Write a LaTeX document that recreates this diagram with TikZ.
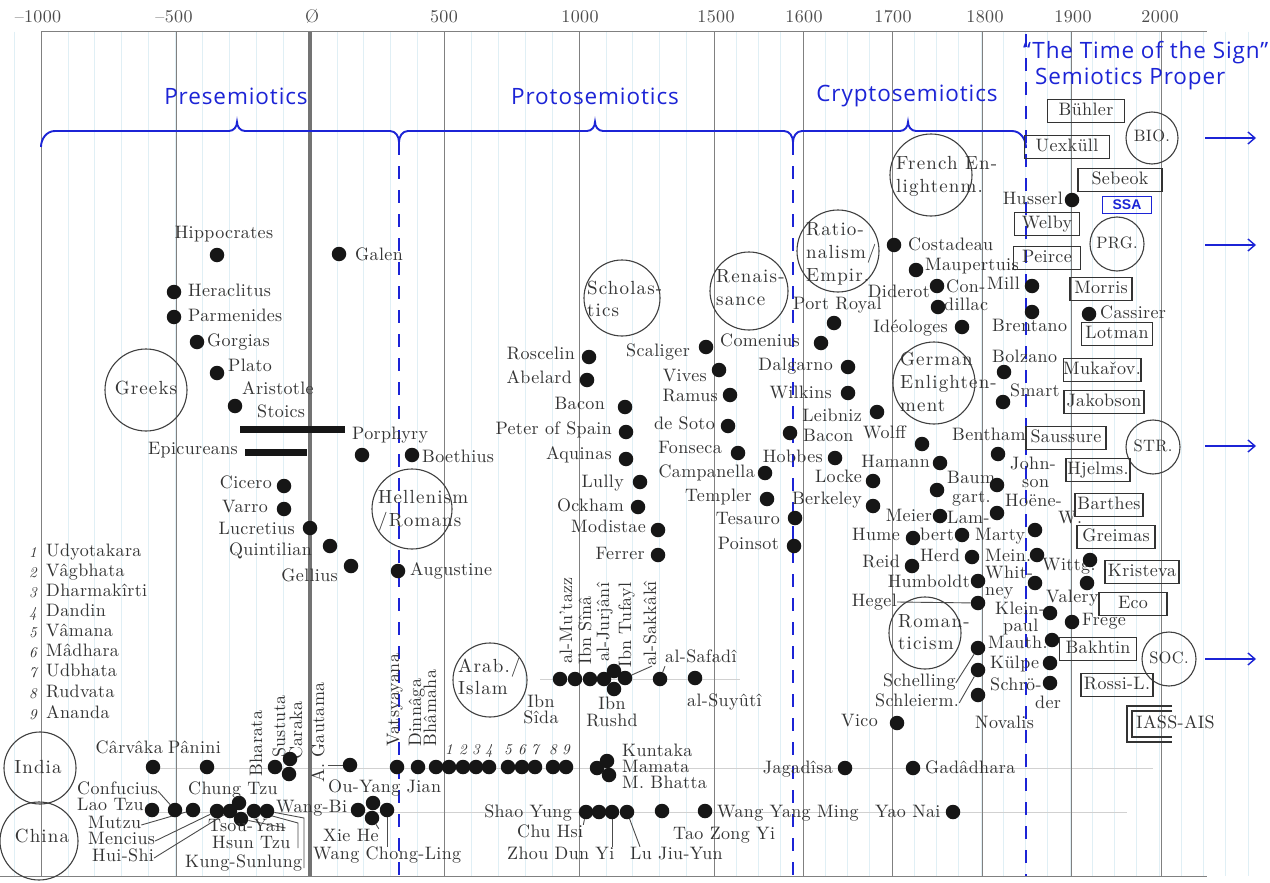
\documentclass[tikz,border=0pt]{standalone}
\usepackage{fontspec}
\setmainfont{lmroman10-regular.otf}[ItalicFont=lmroman10-italic.otf, LetterSpace=2]
\newfontfamily\circfont{lmroman10-regular.otf}[LetterSpace=6]
\newfontfamily\bluefont{Open Sans}[LetterSpace=4]
\newfontfamily\ssafont{Liberation Sans}
\usetikzlibrary{arrows.meta}
\pgfdeclarelayer{back}\pgfdeclarelayer{mid}\pgfsetlayers{back,mid,main}
\definecolor{ink}{RGB}{52,52,52}
\definecolor{dotc}{RGB}{22,22,22}
\definecolor{semblue}{RGB}{28,36,214}
\definecolor{paper}{RGB}{224,239,245}
\tikzset{
  lb/.style={inner sep=0pt, text=ink, font=\fontsize{18}{20}\selectfont, text height=12pt, text depth=4pt},
  tlb/.style={lb, text height=10.5pt, text depth=3pt},
  cl/.style={lb, font=\circfont\fontsize{19}{21}\selectfont},
  smlb/.style={lb, font=\fontsize{16.5}{19}\selectfont},
  pdot/.style={circle, fill=dotc, inner sep=0pt, minimum size=14.5pt},
  era/.style={circle, draw=black!75, line width=1.1pt, inner sep=0pt},
  bx/.style={lb, draw=black!80, line width=1.4pt, anchor=center},
  conn/.style={draw=black!70, line width=0.9pt},
  yline/.style={draw=black!50, line width=1pt},
  pline/.style={draw=paper, line width=0.8pt},
  rowline/.style={draw=black!18, line width=0.7pt},
  bl/.style={text=semblue, inner sep=0pt, font=\bluefont\fontsize{22.5}{25}\selectfont},
  brc/.style={draw=semblue, line width=1.9pt},
  bdash/.style={draw=semblue, line width=2.2pt, dash pattern=on 13pt off 11pt},
  barrow/.style={draw=semblue, line width=1.4pt, -{Straight Barb[length=7pt,width=12pt]}},
  yr/.style={lb, text=black!70, font=\fontsize{18}{21}\selectfont},
  idx/.style={lb, font=\itshape\fontsize{15}{17}\selectfont},
  thickbar/.style={draw=dotc, line width=7pt},
}
\newcommand\mkdot[2]{\node[pdot] (#1) at (#2) {};}
\newcommand\LW[3]{\node[lb,anchor=west] (#1) at (#2) {#3};}
\newcommand\TW[3]{\node[tlb,anchor=west] (#1) at (#2) {#3};}
\newcommand\CW[3]{\node[cl,anchor=west] (#1) at (#2) {#3};}
\newcommand\LE[3]{\node[lb,anchor=east] (#1) at (#2) {#3};}
\newcommand\LC[3]{\node[lb] (#1) at (#2) {#3};}
\newcommand\LV[3]{\node[lb,rotate=90,anchor=west] (#1) at (#2) {#3};}
\newcommand\ERA[3]{\node[era,minimum size=#3pt] (#1) at (#2) {};}
\newcommand\BX[4]{\node[bx,minimum width=#3pt,minimum height=23pt] (#1) at (#2) {#4};}
\begin{document}
\begin{tikzpicture}[x=1pt,y=-1pt]
\useasboundingbox (0,0) rectangle (1270,883);

% ---------- year axis labels ----------
\node[yr] (y-m1000) at (38,19) {–1000};
\node[yr] (y-m500) at (174,19) {–500};
\node[yr] (y-0) at (312,19) {Ø};
\node[yr] (y-500) at (444,19) {500};
\node[yr] (y-1000) at (580,19) {1000};
\node[yr] (y-1500) at (716,19) {1500};
\node[yr] (y-1600) at (804,19) {1600};
\node[yr] (y-1700) at (893,19) {1700};
\node[yr] (y-1800) at (985,19) {1800};
\node[yr] (y-1900) at (1073,19) {1900};
\node[yr] (y-2000) at (1160,19) {2000};

% ---------- blue headings ----------
\node[bl] (p-pre) at (236,96) {Presemiotics};
\node[bl] (p-proto) at (595,96) {Protosemiotics};
\node[bl] (p-crypto) at (907,96) {Cryptosemiotics};
\node[bl,anchor=west] (p-sign) at (1023,53) {“The Time of the Sign”};
\node[bl,anchor=west] (p-proper) at (1035,79) {Semiotics Proper};

% ---------- Greeks / Romans ----------
\LC{t-hipp}{224,234}{Hippocrates}
\mkdot{d-hipp}{217,255}
\mkdot{d-galen}{339,254} \LW{t-galen}{355,256}{Galen}
\mkdot{d-hera}{174,292} \LW{t-hera}{188,292}{Heraclitus}
\mkdot{d-parm}{174,317} \LW{t-parm}{188,317}{Parmenides}
\mkdot{d-gorg}{197,342} \LW{t-gorg}{207,342}{Gorgias}
\mkdot{d-plato}{217,373} \LW{t-plato}{228,367}{Plato}
\LW{t-arist}{242,390}{Aristotle} \mkdot{d-arist}{235,406}
\LW{t-stoics}{257,413}{Stoics}
\coordinate (s-a) at (240,429); \coordinate (s-b) at (345,429);
\draw[thickbar] (s-a) -- (s-b);
\LW{t-porph}{352,435}{Porphyry}
\LE{t-epic}{238,450}{Epicureans}
\coordinate (e-a) at (245,452); \coordinate (e-b) at (307,452);
\draw[thickbar] (e-a) -- (e-b);
\ERA{c-greeks}{146,390}{82} \node[cl] (t-greeks) at (146,390) {Greeks};
\mkdot{d-porph}{362,455}
\mkdot{d-boeth}{412,455} \LW{t-boeth}{422,458}{Boethius}
\ERA{c-hell}{412,509}{80}
\CW{t-hell1}{378,499}{Hellenism} \CW{t-hell2}{378,522}{/Romans}
\LE{t-cicero}{272,484}{Cicero} \mkdot{d-cicero}{284,486}
\LE{t-varro}{268,508}{Varro} \mkdot{d-varro}{284,509}
\LE{t-lucr}{295,530}{Lucretius} \mkdot{d-lucr}{310,528}
\LE{t-quint}{312,551}{Quintilian} \mkdot{d-quint}{330,546}
\LE{t-gell}{338,577}{Gellius} \mkdot{d-gell}{351,566}
\mkdot{d-aug}{398,571} \LW{t-aug}{410,571}{Augustine}

% ---------- index of Indian names ----------
\foreach \n/\yy/\s in {1/553/Udyotakara,2/573/Vâgbhata,3/593/Dharmakîrti,4/613/Dandin,5/633/Vâmana,6/653/Mâdhara,7/673/Udbhata,8/694/Rudvata,9/715/Ananda}{
  \node[idx] (n-\n) at (33,\yy) {\n};
  \node[tlb,anchor=west] (ix-\n) at (46,\yy) {\s};
}

% ---------- India ----------
\ERA{c-india}{40,768}{72} \node[cl] (t-india) at (38,769) {India};
\ERA{c-china}{39,841}{78} \node[cl] (t-china) at (42,838) {China};
\LE{t-carv}{163,749}{Cârvâka} \LW{t-pan}{168,749}{Pânini}
\mkdot{d-carv}{153,767} \mkdot{d-pan}{207,767}
\LV{t-bhar}{258,777}{Bharata}
\LV{t-sust}{281,758}{Sustuta}
\LV{t-cara}{298,760}{Caraka}
\mkdot{d-bhar}{275,767} \mkdot{d-sust}{290,759} \mkdot{d-cara}{289,774}
\LV{t-gaut}{320,783}{A. Gautama}
\mkdot{d-gaut}{350,765}
\LV{t-vats}{395,747}{Vatsyayana}
\LV{t-dinn}{417,747}{Dinnâga}
\LV{t-bham}{432,747}{Bhâmaha}
\mkdot{d-vats}{397,767} \mkdot{d-dinn}{418,767} \mkdot{d-bham}{436,767}
\foreach \n/\xx in {1/449,2/463,3/476,4/489,5/508,6/522,7/535,8/553,9/566}{
  \mkdot{d-i\n}{\xx,767}
  \node[idx] (k-\n) at (\xx,750) {\n};
}
\mkdot{d-kunt}{597,768} \mkdot{d-mam}{607,761} \mkdot{d-mbh}{609,775}
\TW{t-kunt}{622,753}{Kuntaka} \TW{t-mam}{622,769}{Mamata} \TW{t-mbh}{622,785}{M. Bhatta}
\LE{t-jag}{833,769}{Jagadîsa} \mkdot{d-jag}{845,768}
\mkdot{d-gad}{913,768} \LW{t-gad}{925,769}{Gadâdhara}
\LW{t-ouyang}{328,788}{Ou-Yang Jian}

% ---------- China ----------
\TW{t-conf}{77,791}{Confucius}
\TW{t-lao}{77,807}{Lao Tzu}
\mkdot{d-lao}{152,810} \mkdot{d-conf}{175,810} \mkdot{d-mutzu}{193,810}
\mkdot{d-menc}{217,811} \mkdot{d-hui}{230,811} \mkdot{d-chung}{239,803}
\mkdot{d-c7}{241,819} \mkdot{d-c8}{254,811} \mkdot{d-c9}{267,811}
\LW{t-chung}{188,790}{Chung Tzu}
\LW{t-wangbi}{276,808}{Wang-Bi}
\TW{t-mutzu}{88,825}{Mutzu} \TW{t-menc}{88,841}{Mencius} \TW{t-hui}{92,858}{Hui-Shi}
\TW{t-tsou}{208,828}{Tsou-Yan} \TW{t-hsun}{212,845}{Hsun Tzu} \TW{t-kung}{185,864}{Kung-Sunlung}
\coordinate (k8a) at (298,823); \coordinate (k8b) at (298,848);
\coordinate (k9a) at (304,818); \coordinate (k9b) at (304,868);
\mkdot{d-wb1}{358,810} \mkdot{d-wb2}{373,803} \mkdot{d-wb3}{372,818} \mkdot{d-wb4}{387,810}
\LW{t-xie}{323,837}{Xie He}
\LW{t-wcl}{313,855}{Wang Chong-Ling}
\LE{t-shao}{572,813}{Shao Yung}
\mkdot{d-s1}{586,812} \mkdot{d-s2}{599,812} \mkdot{d-s3}{612,812} \mkdot{d-s4}{627,812}
\mkdot{d-s5}{662,811} \mkdot{d-wym}{705,811}
\LW{t-chu}{517,833}{Chu Hsi}
\LW{t-zhou}{507,855}{Zhou Dun Yi}
\LW{t-lu}{630,855}{Lu Jiu-Yun}
\LW{t-tao}{673,835}{Tao Zong Yi}
\LW{t-wym}{717,813}{Wang Yang Ming}
\LW{t-yao}{875,813}{Yao Nai} \mkdot{d-yao}{953,812}

% ---------- Arab / Islam ----------
\ERA{c-arab}{490,680}{74}
\CW{t-arab1}{458,668}{Arab./} \CW{t-arab2}{458,690}{Islam}
\LC{t-ibn1}{541,703}{Ibn} \LC{t-sida}{541,719}{Sîda}
\mkdot{d-a1}{560,679} \mkdot{d-a2}{575,679} \mkdot{d-a3}{590,679} \mkdot{d-a4}{604,679}
\mkdot{d-a5}{614,671} \mkdot{d-a6}{614,689} \mkdot{d-a7}{625,678}
\mkdot{d-a8}{660,679} \mkdot{d-a9}{695,678}
\LV{t-mutazz}{568,664}{al-Mu’tazz}
\LV{t-sina}{587,665}{Ibn Sînâ}
\LV{t-jurj}{605,662}{al-Jurjânî}
\LV{t-tuf}{627,668}{Ibn Tufayl}
\LV{t-sakk}{652,666}{al-Sakkâkî}
\LC{t-ibn2}{612,705}{Ibn} \LC{t-rushd}{612,722}{Rushd}
\LW{t-safadi}{665,658}{al-Safadî}
\LW{t-suyuti}{687,702}{al-Suyûtî}

% ---------- Scholastics ----------
\ERA{c-schol}{622,298}{76}
\CW{t-schol1}{587,290}{Scholas-} \CW{t-schol2}{587,312}{tics}
\LE{t-rosc}{575,355}{Roscelin} \mkdot{d-rosc}{589,357}
\LE{t-abel}{572,379}{Abelard} \mkdot{d-abel}{587,380}
\LE{t-bacon1}{605,405}{Bacon} \mkdot{d-bacon1}{625,407}
\LE{t-peter}{612,430}{Peter of Spain} \mkdot{d-peter}{626,432}
\LE{t-aqui}{612,455}{Aquinas} \mkdot{d-aqui}{626,459}
\LE{t-lully}{624,483}{Lully} \mkdot{d-lully}{640,482}
\LE{t-ockham}{624,507}{Ockham} \mkdot{d-ockham}{638,507}
\LE{t-modi}{646,528}{Modistae} \mkdot{d-modi}{658,530}
\LE{t-ferrer}{645,555}{Ferrer} \mkdot{d-ferrer}{658,555}

% ---------- Renaissance / Rationalism ----------
\ERA{c-ren}{749,291}{78}
\CW{t-ren1}{716,278}{Renais-} \CW{t-ren2}{716,301}{sance}
\ERA{c-ratio}{838,251}{82}
\CW{t-rat1}{806,231}{Ratio-} \CW{t-rat2}{806,254}{nalism/} \CW{t-rat3}{806,277}{Empir.}
\LE{t-scal}{690,352}{Scaliger} \mkdot{d-scal}{706,347}
\LW{t-comen}{720,342}{Comenius} \mkdot{d-comen}{821,343}
\LW{t-port}{793,305}{Port Royal} \mkdot{d-port}{834,323}
\LE{t-vives}{707,377}{Vives} \mkdot{d-vives}{719,370}
\LE{t-dalg}{833,366}{Dalgarno} \mkdot{d-dalg}{848,367}
\LE{t-ramus}{718,397}{Ramus} \mkdot{d-ramus}{730,395}
\LE{t-wilk}{832,394}{Wilkins} \mkdot{d-wilk}{848,393}
\LE{t-soto}{715,425}{de Soto} \mkdot{d-soto}{728,426}
\LE{t-leib}{862,417}{Leibniz} \mkdot{d-leib}{877,412}
\mkdot{d-bacon2}{790,433} \LW{t-bacon2}{803,437}{Bacon}
\LW{t-wolff}{863,434}{Wolff} \mkdot{d-wolff}{922,444}
\LE{t-fons}{722,449}{Fonseca} \mkdot{d-fons}{738,453}
\LE{t-hobbes}{823,458}{Hobbes} \mkdot{d-hobbes}{835,458}
\LE{t-hamann}{930,463}{Hamann} \mkdot{d-hamann}{940,463}
\LE{t-camp}{755,473}{Campanella} \mkdot{d-camp}{765,473}
\LE{t-locke}{862,478}{Locke} \mkdot{d-locke}{873,481}
\LE{t-templ}{752,497}{Templer} \mkdot{d-templ}{767,499}
\LE{t-berk}{862,500}{Berkeley} \mkdot{d-berk}{873,506}
\LE{t-tesa}{780,520}{Tesauro} \mkdot{d-tesa}{795,518}
\LE{t-poin}{779,545}{Poinsot} \mkdot{d-poin}{794,546}
\LE{t-meier}{932,517}{Meier} \mkdot{d-meier}{940,516}
\LE{t-hume}{900,536}{Hume} \mkdot{d-hume}{913,538}
\LE{t-reid}{900,563}{Reid} \mkdot{d-reid}{912,566}
\LE{t-humb}{970,583}{Humboldt} \mkdot{d-humb}{978,581}

% ---------- Enlightenment ----------
\ERA{c-french}{931,175}{82}
\CW{t-fr1}{896,165}{French En-} \CW{t-fr2}{896,188}{lightenm.}
\mkdot{d-costa}{894,245} \LW{t-costa}{908,246}{Costadeau}
\mkdot{d-maup}{916,270} \LW{t-maup}{925,266}{Maupertuis}
\LE{t-dider}{930,293}{Diderot} \mkdot{d-dider}{937,286}
\mkdot{d-cond}{938,307} \TW{t-cond1}{946,289}{Con-} \TW{t-cond2}{944,307}{dillac}
\LE{t-ideol}{948,328}{Idéologes} \mkdot{d-ideol}{962,327}
\LE{t-mill}{1020,285}{Mill} \mkdot{d-mill}{1032,286}
\mkdot{d-brent}{1032,312} \LW{t-brent}{992,327}{Brentano}
\LE{t-huss}{1063,200}{Husserl} \mkdot{d-huss}{1072,200}
\ERA{c-german}{934,383}{82}
\CW{t-ger1}{900,361}{German} \CW{t-ger2}{900,384}{Enlighten-} \CW{t-ger3}{900,407}{ment}
\LW{t-bolz}{992,358}{Bolzano} \mkdot{d-bolz}{1004,372}
\LW{t-smart}{1010,392}{Smart} \mkdot{d-smart}{1003,402}
\LW{t-benth}{952,436}{Bentham} \mkdot{d-benth}{998,454}
\TW{t-baum1}{947,480}{Baum} \TW{t-baum2}{952,499}{gart.} \mkdot{d-baum}{937,490}
\TW{t-john1}{1010,466}{John-} \TW{t-john2}{1022,484}{son} \mkdot{d-john}{997,485}
\TW{t-hoene1}{1005,503}{Hoëne-} \TW{t-hoene2}{1058,520}{W.} \mkdot{d-hoene}{997,513}
\TW{t-lamb1}{947,520}{Lam-} \TW{t-lamb2}{920,537}{bert} \mkdot{d-lamb}{962,535}
\TW{t-marty}{975,537}{Marty} \mkdot{d-marty}{1035,530}
\TW{t-herd}{920,558}{Herd} \mkdot{d-herd}{972,557}
\TW{t-mein}{985,558}{Mein.} \mkdot{d-mein}{1037,555}
\TW{t-witt}{1042,567}{Wittg.} \mkdot{d-witt}{1090,560}
\TW{t-whit1}{985,575}{Whit-} \TW{t-whit2}{985,592}{ney} \mkdot{d-whit}{1035,583}
\TW{t-valery}{1046,599}{Valery} \mkdot{d-valery}{1087,583}
\TW{t-klein1}{995,611}{Klein-} \TW{t-klein2}{1003,628}{paul} \mkdot{d-klein}{1050,613}
\mkdot{d-frege}{1072,622} \TW{t-frege}{1082,622}{Frege}
\TW{t-mauth}{988,645}{Mauth.} \mkdot{d-schel}{978,648} \mkdot{d-mauth}{1052,640}
\TW{t-kulpe}{990,665}{Külpe} \mkdot{d-kulpe}{1050,663}
\TW{t-schro1}{990,687}{Schrö-} \TW{t-schro2}{1035,705}{der} \mkdot{d-schro}{1050,683}
\LW{t-noval}{975,724}{Novalis} \mkdot{d-noval}{978,695}
\mkdot{d-schl}{978,670}
\mkdot{d-hegel}{978,603}
\ERA{c-roman}{925,633}{72}
\CW{t-rom1}{898,623}{Roman-} \CW{t-rom2}{898,645}{ticism}
\TW{t-schel}{883,683}{Schelling}
\TW{t-schl}{875,703}{Schleierm.}
\LE{t-hegel}{897,602}{Hegel}
\LE{t-vico}{878,722}{Vico} \mkdot{d-vico}{897,723}

% ---------- Semiotics proper ----------
\BX{b-buhler}{1086,111}{77}{Bühler}
\ERA{c-bio}{1152,138}{52} \node[smlb] (t-bio) at (1152,138) {BIO.};
\BX{b-uex}{1067,147}{85}{Uexküll}
\BX{b-sebeok}{1120,180}{84}{Sebeok}
\node[draw=semblue, line width=1.4pt, text=semblue, font=\ssafont\bfseries\fontsize{14}{16}\selectfont, minimum width=49pt, minimum height=17pt, inner sep=0pt] (b-ssa) at (1127,205) {SSA};
\BX{b-welby}{1047,224}{65}{Welby}
\ERA{c-prg}{1117,244}{54} \node[smlb] (t-prg) at (1117,244) {PRG.};
\BX{b-peirce}{1047,258}{67}{Peirce}
\BX{b-morris}{1101,289}{62}{Morris}
\mkdot{d-cass}{1089,314} \LW{t-cass}{1100,314}{Cassirer}
\BX{b-lotman}{1117,334}{71}{Lotman}
\BX{b-muk}{1102,370}{76}{Mukařov.}
\BX{b-jak}{1104,402}{80}{Jakobson}
\BX{b-sauss}{1066,438}{80}{Saussure}
\ERA{c-str}{1153,447}{54} \node[smlb] (t-str) at (1153,447) {STR.};
\BX{b-hjel}{1098,470}{64}{Hjelms.}
\BX{b-barth}{1109,505}{68}{Barthes}
\BX{b-greim}{1116,537}{78}{Greimas}
\BX{b-krist}{1142,572}{74}{Kristeva}
\BX{b-eco}{1133,604}{68}{Eco}
\BX{b-bakh}{1098,649}{77}{Bakhtin}
\ERA{c-soc}{1169,659}{54} \node[smlb] (t-soc) at (1169,659) {SOC.};
\BX{b-rossi}{1117,685}{72}{Rossi-L.}
\LW{t-iass}{1136,724}{IASS-AIS}
\draw[draw=black!80, line width=1.3pt] (1172,706) -- (1127,706) -- (1127,742) -- (1172,742);
\draw[draw=black!80, line width=1.3pt] (1172,711) -- (1132,711) -- (1132,737) -- (1172,737);

\coordinate (ar1a) at (1205,138); \coordinate (ar1b) at (1256,138);
\coordinate (ar2a) at (1205,245); \coordinate (ar2b) at (1256,245);
\coordinate (ar3a) at (1205,446); \coordinate (ar3b) at (1256,446);
\coordinate (ar4a) at (1205,659); \coordinate (ar4b) at (1256,659);
\draw[barrow] (ar1a) -- (ar1b);
\draw[barrow] (ar2a) -- (ar2b);
\draw[barrow] (ar3a) -- (ar3b);
\draw[barrow] (ar4a) -- (ar4b);

% ---------- connectors ----------
\begin{pgfonlayer}{mid}
\draw[conn] (t-gaut.south |- d-gaut) -- (d-gaut);
\draw[conn] (t-conf.east) -- (d-conf);
\draw[conn] (t-mutzu.east) -- (d-mutzu);
\draw[conn] (t-menc.east) -- (d-menc);
\draw[conn] (t-hui.east) -- (d-hui);
\draw[conn] (d-c7) -- (t-tsou.east);
\draw[conn] (d-c8) -- (k8a) -- (k8b);
\draw[conn] (d-c9) -- (k9a) -- (k9b);
\draw[conn] (t-xie.north east) -- (d-wb3);
\draw[conn] (d-wb4) -- (d-wb4 |- t-wcl.north);
\draw[conn] (t-chu.north east) -- (d-s1);
\draw[conn] (d-s3) -- (d-s3 |- t-zhou.north);
\draw[conn] (d-s4) -- ([xshift=10pt]t-lu.north west);
\draw[conn] (t-safadi.south west) -- (d-a8);
\draw[conn] (t-sakk.west) -- (d-a7);
\draw[conn] (t-schel.east) -- (d-schel);
\draw[conn] (t-schl.east) -- (d-schl);
\draw[conn] (t-hegel.east) -- (d-hegel);
\end{pgfonlayer}

% ---------- background: paper, grid, braces ----------
\begin{pgfonlayer}{back}
\fill[white] (0,0) rectangle (1270,883);
\foreach \k in {-1,...,24} { \draw[pline] ({41+\k*26.9},32) -- ({41+\k*26.9},876); }
\foreach \k in {1,...,24} { \draw[pline] ({714+\k*22.25},32) -- ({714+\k*22.25},876); }
\draw[rowline] (150,768) -- (1153,768);
\draw[rowline] (150,812) -- (1127,812);
\draw[rowline] (540,679) -- (740,679);
\foreach \xx in {41,176,444,579,714,803,892,982,1071,1161} { \draw[yline] (\xx,32) -- (\xx,876); }
\draw[draw=black!55, line width=3.5pt] (310,32) -- (310,876);
\draw[yline] (41,32) -- (1207,32);
\draw[yline] (0,876) -- (1207,876);
\draw[bdash] (399,142) -- (399,876);
\draw[bdash] (793,142) -- (793,876);
\draw[bdash] (1026,34) -- (1026,876);
\draw[brc] (41,147) to[out=90,in=180] (55,131) -- (229,131)
  to[out=0,in=-90] (237,122) to[out=-90,in=180] (245,131) -- (390,131)
  to[out=0,in=90] (399,142) to[out=90,in=180] (408,131) -- (587,131)
  to[out=0,in=-90] (595,122) to[out=-90,in=180] (603,131) -- (784,131)
  to[out=0,in=90] (793,142) to[out=90,in=180] (802,131) -- (900,131)
  to[out=0,in=-90] (908,122) to[out=-90,in=180] (916,131) -- (1012,131)
  to[out=0,in=90] (1026,148);
\end{pgfonlayer}
\end{tikzpicture}
\end{document}
